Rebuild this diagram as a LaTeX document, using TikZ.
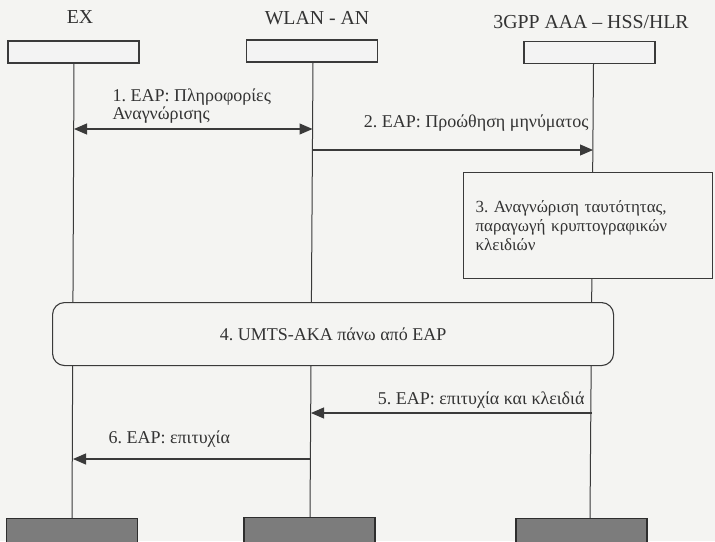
\documentclass[tikz,border=0pt]{standalone}
\usepackage{fontspec}
\setmainfont{Liberation Serif}
\usetikzlibrary{arrows.meta}
\frenchspacing
\definecolor{paper}{HTML}{F4F4F2}
\definecolor{ink}{HTML}{3A3A3A}
\definecolor{txt}{HTML}{333333}
\definecolor{headfill}{HTML}{F3F3F3}
\definecolor{endfill}{HTML}{7C7C7C}
\begin{document}
\begin{tikzpicture}[x=1pt,y=-1pt,
  line width=1.1pt,
  every node/.style={text=txt},
  head/.style={font=\fontsize{19.8}{22}\selectfont, inner sep=0pt, anchor=base},
  msg/.style={font=\fontsize{18}{20}\selectfont, inner sep=0pt},
  headbox/.style={draw=ink, fill=headfill, minimum width=131pt, minimum height=22pt, inner sep=0pt},
  endbox/.style={draw=ink!80!black, fill=endfill, minimum width=131pt, minimum height=26pt, inner sep=0pt, anchor=north},
  lifeline/.style={draw=ink, line width=1pt},
  arrowline/.style={draw=ink, line width=1.1pt, -{Triangle[length=13pt,width=11pt]}},
  procbox/.style={draw=ink, fill=paper, inner sep=0pt}
]
\useasboundingbox (0,0) rectangle (715,541);
\clip (0,0) rectangle (715,541);
\fill[paper] (0,0) rectangle (715,541);

% participants
\node[head] (lEX)   at (80,23)  {EX};
\node[head] (lWLAN) at (317,24) {WLAN - AN};
\node[head] (lAAA)  at (591,28) {3GPP AAA – HSS/HLR};

\node[headbox] (tEX)   at (73.5,52) {};
\node[headbox] (tWLAN) at (312,51)  {};
\node[headbox] (tAAA)  at (589.5,52.5) {};

\node[endbox] (bEX)   at (72,518)    {};
\node[endbox] (bWLAN) at (309.5,517) {};
\node[endbox] (bAAA)  at (581.5,518) {};

% lifelines
\draw[lifeline] ([xshift=0.5pt]tEX.south) -- (bEX.north);
\draw[lifeline] ([xshift=1pt]tWLAN.south) -- ([xshift=0.5pt]bWLAN.north);
\draw[lifeline] ([xshift=4pt]tAAA.south) -- ([xshift=8.5pt]bAAA.north);

% arrow end points on the lifelines
\coordinate (m1a) at (74,129);
\coordinate (m1b) at (312.5,129);
\coordinate (m2a) at (312.5,150);
\coordinate (m2b) at (593,150);
\coordinate (m5a) at (592,413);
\coordinate (m5b) at (311,413);
\coordinate (m6a) at (310.5,459);
\coordinate (m6b) at (73,459);

% 1
\draw[arrowline, {Triangle[length=13pt,width=11pt]}-{Triangle[length=13pt,width=11pt]}] (m1a) -- (m1b);
\node[msg, anchor=base west] (t1a) at (112,101) {1. EAP: Πληροφορίες};
\node[msg, anchor=base west] (t1b) at (112,119) {Αναγνώρισης};

% 2
\draw[arrowline] (m2a) -- (m2b);
\node[msg, anchor=base east] (t2) at (589,127) {2. EAP: Προώθηση μηνύματος};

% 3
\node[procbox, minimum width=249pt, minimum height=106pt, anchor=north west,
      text width=225pt, align=left, inner xsep=12pt, font=\fontsize{17}{19}\selectfont]
      (p3) at (463,172) {3. Αναγνώριση ταυτότητας,\\ παραγωγή κρυπτογραφικών\\ κλειδιών};

% 4
\node[procbox, rounded corners=12pt, minimum width=561pt, minimum height=63pt, anchor=north west,
      font=\fontsize{18}{20}\selectfont]
      (p4) at (52,302) {4. UMTS-AKA πάνω από EAP};

% 5
\draw[arrowline] (m5a) -- (m5b);
\node[msg, anchor=base east] (t5) at (585,404) {5. EAP: επιτυχία και κλειδιά};

% 6
\draw[arrowline] (m6a) -- (m6b);
\node[msg, anchor=base west] (t6) at (108,443) {6. EAP: επιτυχία};
\end{tikzpicture}
\end{document}
